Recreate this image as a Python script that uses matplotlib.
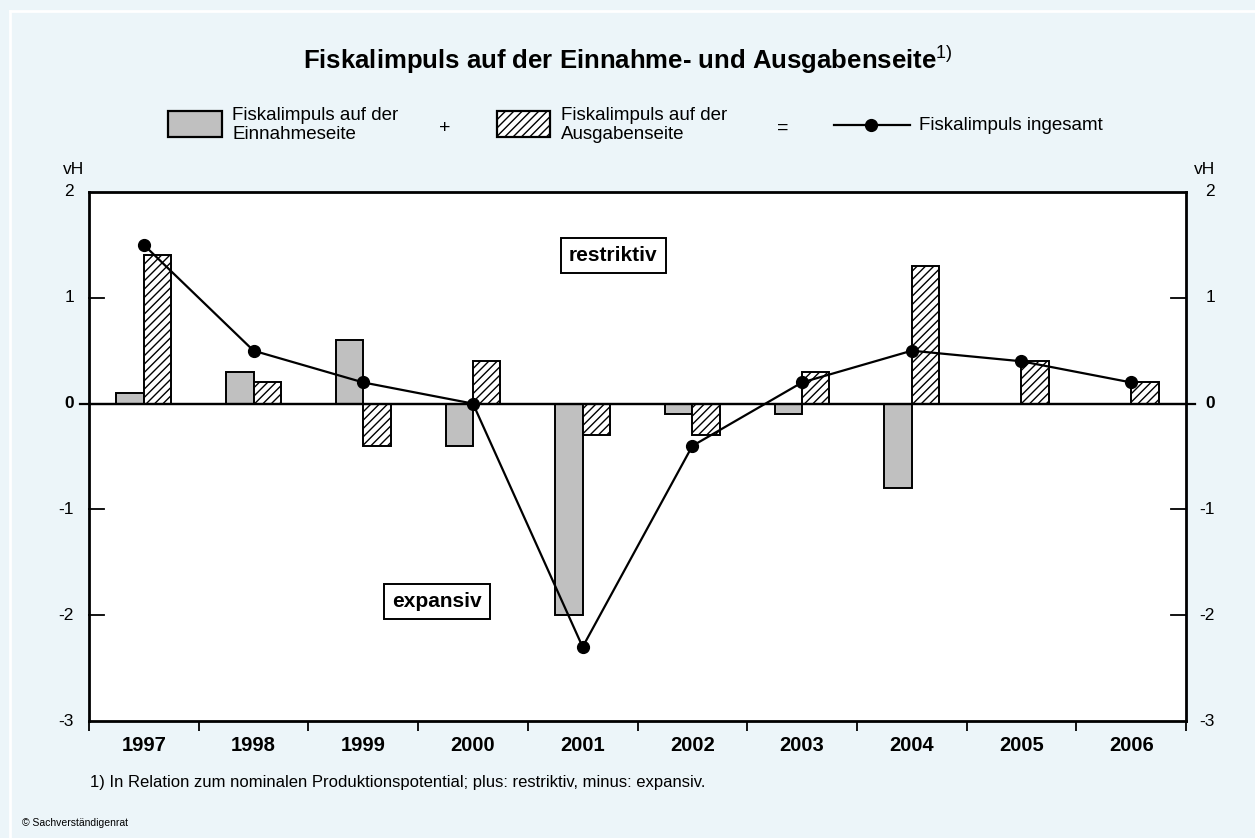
import numpy as np
import matplotlib.pyplot as plt
from matplotlib.patches import Rectangle
from matplotlib.lines import Line2D

plt.rcParams['font.family'] = ['Liberation Sans', 'DejaVu Sans']
plt.rcParams['mathtext.fontset'] = 'custom'
plt.rcParams['mathtext.rm'] = 'Liberation Sans'
plt.rcParams['hatch.linewidth'] = 1.0

years = ['1997', '1998', '1999', '2000', '2001', '2002', '2003', '2004', '2005', '2006']
einnahmen = [0.1, 0.3, 0.6, -0.4, -2.0, -0.1, -0.1, -0.8, 0.0, 0.0]
ausgaben = [1.4, 0.2, -0.4, 0.4, -0.3, -0.3, 0.3, 1.3, 0.4, 0.2]
insgesamt = [1.5, 0.5, 0.2, 0.0, -2.3, -0.4, 0.2, 0.5, 0.4, 0.2]
yticks = [-3, -2, -1, 0, 1, 2]

bg = '#ecf5f9'
W, H = 1255, 838
fig = plt.figure(figsize=(W / 100, H / 100), dpi=100, facecolor=bg)

def fx(px):
    return px / W

def fy(py):
    return 1 - py / H

# thin white frame lines
fig.add_artist(Line2D([fx(10), fx(10)], [0, fy(11)], color='white', lw=2))
fig.add_artist(Line2D([fx(10), 1], [fy(11), fy(11)], color='white', lw=2))

ax = fig.add_axes([fx(89), fy(721), fx(1186) - fx(89), fy(192) - fy(721)])
ax.set_facecolor('white')

x = np.arange(len(years))
w = 0.25
ax.bar(x - w / 2, einnahmen, w, color='#c0c0c0', edgecolor='black', linewidth=1.4, zorder=2)
ax.bar(x + w / 2, ausgaben, w, color='white', edgecolor='black', hatch='////', linewidth=1.4, zorder=2)
ax.axhline(0, color='black', lw=1.6, zorder=3)
ax.plot(x, insgesamt, color='black', lw=1.6, marker='o', markersize=8.5, zorder=4, clip_on=False)

ax.set_xlim(-0.5, len(years) - 0.5)
ax.set_ylim(-3, 2)
for s in ax.spines.values():
    s.set_linewidth(2)
    s.set_color('black')

# x ticks at category borders
ax.set_xticks(np.arange(-0.5, len(years)), minor=False)
ax.set_xticklabels([])
ax.tick_params(axis='x', direction='out', length=7, width=1.3)
ax.set_xticks(x, minor=True)
ax.set_xticklabels(years, minor=True, fontsize=14.5, fontweight='bold')
ax.tick_params(axis='x', which='minor', length=0, pad=11)

ax.set_yticks([])
trans_l = ax.get_yaxis_transform()
for v in yticks:
    wt = 'bold' if v == 0 else 'normal'
    ax.text(-0.0137, v, str(v), transform=trans_l, ha='right', va='center', fontsize=12.5, fontweight=wt)
    ax.text(1.0265, v, str(v), transform=trans_l, ha='right', va='center', fontsize=12.5, fontweight=wt)
    if v in (-2, -1, 1):
        ax.plot([0, 0.0135], [v, v], transform=trans_l, color='black', lw=1.3, clip_on=False)
        ax.plot([0.9865, 1], [v, v], transform=trans_l, color='black', lw=1.3, clip_on=False)
    if v == 0:
        ax.plot([-0.008, 1.008], [v, v], transform=trans_l, color='black', lw=1.6, clip_on=False)
ax.text(-0.004, 1.042, 'vH', transform=ax.transAxes, ha='right', va='center', fontsize=12.5)
ax.text(1.0265, 1.042, 'vH', transform=ax.transAxes, ha='right', va='center', fontsize=12.5)

box = dict(boxstyle='square,pad=0.4', facecolor='white', edgecolor='black', linewidth=1.4)
ax.text(4.28, 1.4, 'restriktiv', ha='center', va='center', fontsize=15, fontweight='bold', bbox=box, zorder=5)
ax.text(2.67, -1.87, 'expansiv', ha='center', va='center', fontsize=15, fontweight='bold', bbox=box, zorder=5)

# title
fig.text(0.5, fy(60), r'Fiskalimpuls auf der Einnahme- und Ausgabenseite$^{\mathrm{1)}}$', ha='center',
         va='center', fontsize=18.5, fontweight='bold')

# legend
fig.add_artist(Rectangle((fx(168), fy(137)), fx(222) - fx(168), fy(111) - fy(137),
                         facecolor='#c0c0c0', edgecolor='black', lw=1.6))
fig.text(fx(232), fy(125), 'Fiskalimpuls auf der\nEinnahmeseite', ha='left', va='center', fontsize=13.5, linespacing=1.2)
fig.text(fx(445), fy(128), '+', ha='center', va='center', fontsize=14)
fig.add_artist(Rectangle((fx(497), fy(137)), fx(550) - fx(497), fy(111) - fy(137),
                         facecolor='white', edgecolor='black', hatch='////', lw=1.6))
fig.text(fx(561), fy(125), 'Fiskalimpuls auf der\nAusgabenseite', ha='left', va='center', fontsize=13.5, linespacing=1.2)
fig.text(fx(783), fy(128), '=', ha='center', va='center', fontsize=14)
fig.add_artist(Line2D([fx(834), fx(910)], [fy(125), fy(125)], color='black', lw=1.6))
fig.add_artist(Line2D([fx(871)], [fy(125)], color='black', marker='o', markersize=8.5))
fig.text(fx(919), fy(125), 'Fiskalimpuls ingesamt', ha='left', va='center', fontsize=13.5)

# footnotes
fig.text(fx(90), fy(782), '1) In Relation zum nominalen Produktionspotential; plus: restriktiv, minus: expansiv.',
         ha='left', va='center', fontsize=12)
fig.text(fx(22), fy(823), '\u00a9 Sachverst\u00e4ndigenrat', ha='left', va='center', fontsize=7.5)

fig.savefig('out.png', dpi=100, facecolor=bg)
